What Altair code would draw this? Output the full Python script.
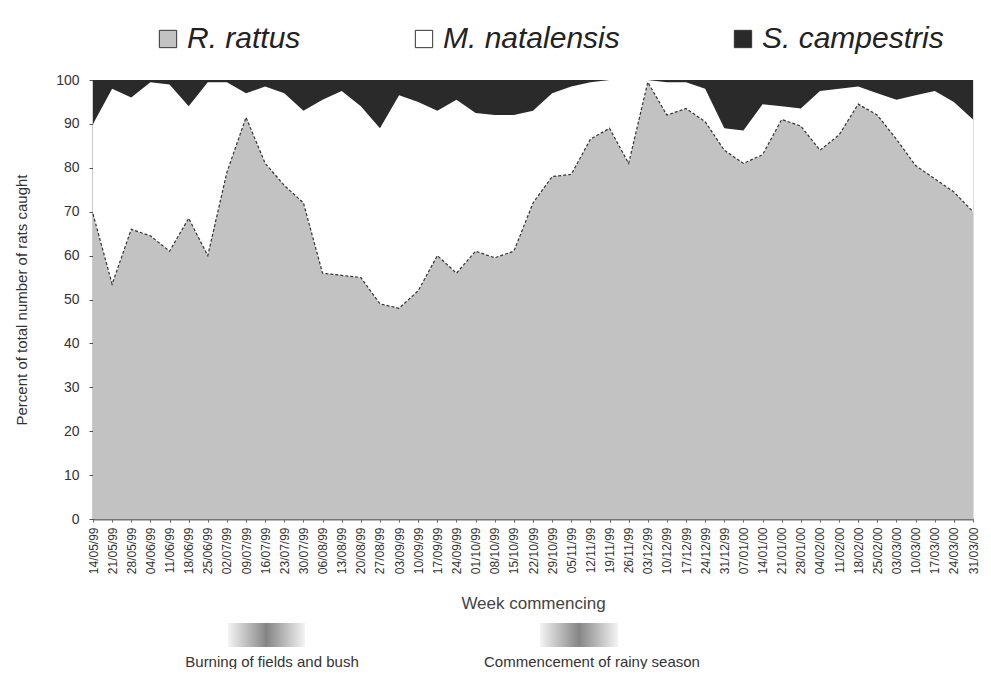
import altair as alt
import pandas as pd

weeks = ["14/05/99", "21/05/99", "28/05/99", "04/06/99", "11/06/99", "18/06/99", "25/06/99",
         "02/07/99", "09/07/99", "16/07/99", "23/07/99", "30/07/99", "06/08/99", "13/08/99",
         "20/08/99", "27/08/99", "03/09/99", "10/09/99", "17/09/99", "24/09/99", "01/10/99",
         "08/10/99", "15/10/99", "22/10/99", "29/10/99", "05/11/99", "12/11/99", "19/11/99",
         "26/11/99", "03/12/99", "10/12/99", "17/12/99", "24/12/99", "31/12/99", "07/01/00",
         "14/01/00", "21/01/00", "28/01/00", "04/02/00", "11/02/00", "18/02/00", "25/02/00",
         "03/03/00", "10/03/00", "17/03/00", "24/03/00", "31/03/00"]

species = ["R. rattus", "M. natalensis", "S. campestris"]

rattus = [69.5, 53.5, 66, 64.5, 61, 68.5, 60, 79, 91.5, 81, 76, 72, 56, 55.5, 55, 49, 48, 52,
          60, 56, 61, 59.5, 61, 72, 78, 78.5, 86.5, 89, 81, 99.5, 92, 93.5, 90.5, 84, 81, 83,
          91, 89.5, 84, 87.5, 94.5, 92, 86.5, 80.5, 77.5, 74.5, 70]
natalensis = [20.5, 44.5, 30, 35, 38, 25.5, 39.5, 20.5, 5.5, 17.5, 21, 21, 39.5, 42, 39, 40,
              48.5, 43, 33, 39.5, 31.5, 32.5, 31, 21, 19, 20, 13, 11, 19, 0.5, 7.5, 6, 7.5, 5,
              7.5, 11.5, 3, 4, 13.5, 10.5, 4, 5, 9, 16, 20, 20.5, 21]
campestris = [10, 2, 4, 0.5, 1, 6, 0.5, 0.5, 3, 1.5, 3, 7, 4.5, 2.5, 6, 11, 3.5, 5, 7, 4.5,
              7.5, 8, 8, 7, 3, 1.5, 0.5, 0, 0, 0, 0.5, 0.5, 2, 11, 11.5, 5.5, 6, 6.5, 2.5, 2,
              1.5, 3, 4.5, 3.5, 2.5, 5, 9]

y_ticks = [0, 10, 20, 30, 40, 50, 60, 70, 80, 90, 100]

colors = ["#c2c2c2", "#ffffff", "#2a2a2a"]
FONT = "Liberation Sans"

rows = []
for k, (name, vals) in enumerate(zip(species, [rattus, natalensis, campestris])):
    for w, v in zip(weeks, vals):
        rows.append({"week": w, "species": name, "pct": v, "k": k})
df = pd.DataFrame(rows)
df_r = pd.DataFrame({"week": weeks, "pct": rattus})

x_enc = alt.X("week:O", sort=weeks, scale=alt.Scale(padding=0),
              axis=alt.Axis(title="Week commencing", labelAngle=-90, labelFontSize=12,
                            labelColor="#333", labelPadding=5, labelOverlap=False,
                            tickSize=3, tickColor="#666", domainColor="#777", domainWidth=2,
                            titleFontSize=17, titleFontWeight="normal", titleColor="#444",
                            titlePadding=22, labelFont=FONT, titleFont=FONT))

y_scale = alt.Scale(domain=[0, 100], nice=False)

area = alt.Chart(df).mark_area(interpolate="linear").encode(
    x=x_enc,
    y=alt.Y("pct:Q", stack="zero", scale=y_scale,
            axis=alt.Axis(title="Percent of total number of rats caught", values=y_ticks,
                          labelFontSize=14, labelColor="#333", labelPadding=10,
                          tickSize=4, tickColor="#555", domainColor="#333", domainWidth=1.5,
                          grid=False, titleFontSize=15, titleFontWeight="normal",
                          titleColor="#333", titlePadding=26, labelFont=FONT,
                          titleFont=FONT)),
    color=alt.Color("species:N", sort=species,
                    scale=alt.Scale(domain=species, range=colors),
                    legend=alt.Legend(title=None, orient="none", legendX=60, legendY=-56,
                                      direction="horizontal", symbolType="square",
                                      symbolSize=300, symbolStrokeColor="#333",
                                      symbolStrokeWidth=1, labelFontSize=30,
                                      labelFontStyle="italic", labelFont=FONT,
                                      labelColor="#222", columnPadding=108,
                                      gridAlign="none", labelLimit=400, labelOffset=4)),
    order=alt.Order("k:Q"),
)

line = alt.Chart(df_r).mark_line(color="#333", strokeWidth=1.2, strokeDash=[3, 2]).encode(
    x=alt.X("week:O", sort=weeks),
    y=alt.Y("pct:Q", scale=y_scale),
)

grad = alt.Gradient(gradient="linear", x1=0, x2=1, y1=0, y2=0,
                    stops=[alt.GradientStop(offset=0, color="#f4f4f4"),
                           alt.GradientStop(offset=0.5, color="#858585"),
                           alt.GradientStop(offset=1, color="#f4f4f4")])

one = pd.DataFrame({"a": [0]})
blob1 = alt.Chart(one).mark_rect(fill=grad, clip=False).encode(
    x=alt.value(135), x2=alt.value(212), y=alt.value(543), y2=alt.value(567))
blob2 = alt.Chart(one).mark_rect(fill=grad, clip=False).encode(
    x=alt.value(447), x2=alt.value(525), y=alt.value(543), y2=alt.value(567))
txt1 = alt.Chart(one).mark_text(text="Burning of fields and bush", font=FONT, fontSize=15,
                                color="#333", align="center", baseline="middle").encode(
    x=alt.value(179), y=alt.value(582))
txt2 = alt.Chart(one).mark_text(text="Commencement of rainy season", font=FONT, fontSize=15,
                                color="#333", align="center", baseline="middle").encode(
    x=alt.value(499), y=alt.value(582))

chart = alt.layer(area, line, blob1, blob2, txt1, txt2).properties(
    width=880, height=439, autosize="none",
    padding={"left": 85, "top": 72, "right": 10, "bottom": 150},
    background="#ffffff",
).configure_view(stroke=None).configure(font=FONT)

chart.save("out.html", embed_options={"renderer": "svg", "actions": False})
